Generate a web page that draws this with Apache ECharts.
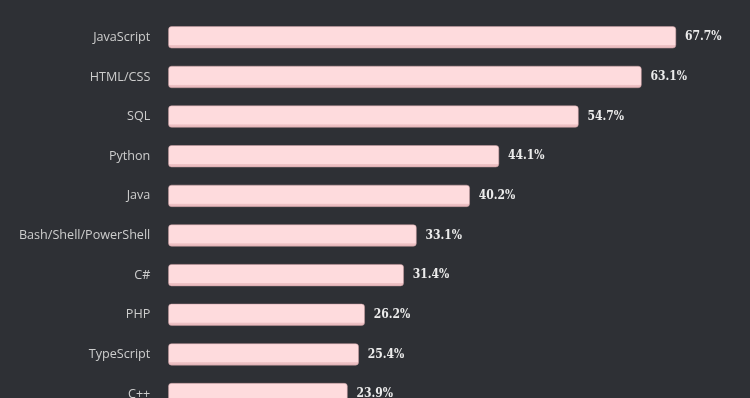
<!DOCTYPE html>
<html>
<head>
<meta charset="utf-8">
<title>Most popular technologies</title>
<script src="https://cdn.jsdelivr.net/npm/echarts@6/dist/echarts.min.js"></script>
<style>
  html, body { margin: 0; padding: 0; background: #2e3035; }
  #chart { width: 750px; height: 398px; }
</style>
</head>
<body>
<div id="chart"></div>
<script>
// languages, top to bottom
const languages = [
  "JavaScript", "HTML/CSS", "SQL", "Python", "Java",
  "Bash/Shell/PowerShell", "C#", "PHP", "TypeScript", "C++"
];
// share of respondents, %
const shares = [67.7, 63.1, 54.7, 44.1, 40.2, 33.1, 31.4, 26.2, 25.4, 23.9];

const chart = echarts.init(document.getElementById("chart"));

// pink bar with a slightly darker lip along the bottom
const barFill = new echarts.graphic.LinearGradient(0, 0, 0, 1, [
  { offset: 0, color: "#fedbdd" },
  { offset: 0.84, color: "#fedbdd" },
  { offset: 0.87, color: "#efc3c6" },
  { offset: 1, color: "#e6b6ba" }
]);

chart.setOption({
  backgroundColor: "#2e3035",
  animation: false,
  // the last row runs off the bottom edge, as in the original crop
  grid: {
    left: 168.3, width: 525, top: 17.5, height: 396.4,
    outerBoundsMode: "none"
  },
  xAxis: {
    type: "value",
    min: 0,
    max: 70,
    show: false
  },
  yAxis: {
    type: "category",
    data: languages,
    inverse: true,
    axisLine: { show: false },
    axisTick: { show: false },
    axisLabel: {
      margin: 18,
      color: "#cdcdcd",
      fontFamily: "Open Sans",
      fontSize: 12.6
    }
  },
  series: [{
    type: "bar",
    data: shares,
    barWidth: 22,
    itemStyle: {
      color: barFill,
      borderRadius: 3,
      borderColor: "#c99ca0",
      borderWidth: 0.5
    },
    label: {
      show: true,
      position: "right",
      distance: 9,
      formatter: (p) => p.value.toFixed(1) + "%",
      color: "#ececec",
      fontFamily: "'DejaVu Serif Condensed', 'Liberation Serif', serif",
      fontWeight: "bold",
      fontSize: 12
    }
  }]
});
</script>
</body>
</html>
